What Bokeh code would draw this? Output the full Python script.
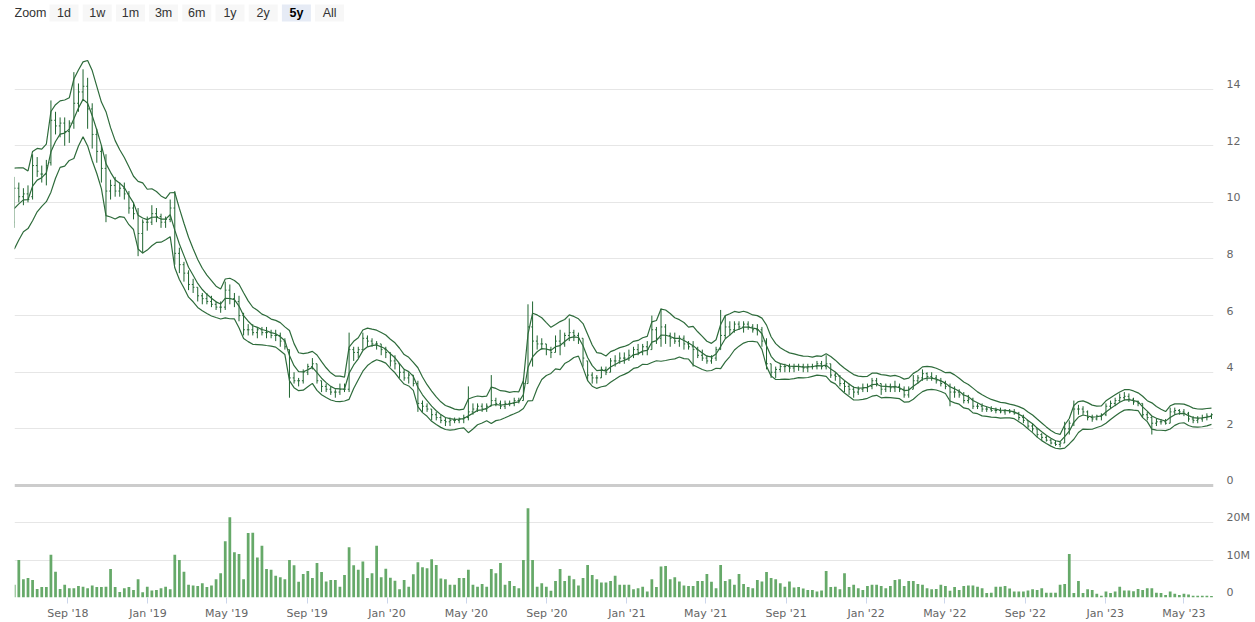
import numpy as np
import pandas as pd
from datetime import datetime, timedelta
from bokeh.plotting import figure
from bokeh.layouts import column
from bokeh.models import (Range1d, FixedTicker, Grid, LinearAxis, MonthsTicker,
                          DatetimeTickFormatter, Span)
from bokeh.core.properties import value
from bokeh.embed import file_html
from bokeh.resources import INLINE

# ---------------- data (weekly OHLC, volume in millions) ----------------
first_week = "2018-06-11"
n_weeks = 262
week_dates = pd.date_range(first_week, periods=n_weeks, freq="7D")

opens = [
    9.3, 10.5, 10.2, 10.3, 10.2, 11.3, 11.0, 11.0, 11.4, 12.9,
    12.7, 12.8, 12.5, 12.8, 13.5, 13.9, 14.1, 13.3, 12.4, 11.8,
    11.2, 10.4, 10.6, 10.4, 10.5, 10.3, 9.8, 9.6, 8.9, 9.3,
    9.3, 9.6, 9.5, 9.3, 9.4, 9.8, 8.2, 7.8, 7.5, 7.1,
    7.0, 6.7, 6.6, 6.5, 6.4, 6.3, 6.3, 6.9, 6.6, 6.5,
    6.0, 5.5, 5.5, 5.4, 5.5, 5.4, 5.4, 5.3, 5.3, 5.1,
    4.8, 3.8, 3.7, 3.7, 4.0, 4.2, 4.3, 3.7, 3.5, 3.4,
    3.3, 3.3, 3.4, 3.4, 4.8, 4.7, 4.8, 5.2, 5.1, 5.0,
    5.0, 4.8, 4.7, 4.4, 4.3, 4.0, 3.8, 3.9, 3.6, 2.9,
    2.8, 2.7, 2.5, 2.4, 2.3, 2.25, 2.3, 2.3, 2.35, 2.4,
    2.6, 2.7, 2.8, 2.7, 2.8, 3.0, 2.9, 2.8, 2.9, 2.9,
    3.0, 3.0, 3.6, 5.6, 5.1, 5.0, 5.0, 4.8, 4.7, 5.1,
    5.0, 5.3, 5.4, 5.3, 5.2, 4.4, 3.9, 3.8, 3.8, 4.1,
    4.0, 4.4, 4.4, 4.5, 4.5, 4.6, 4.8, 4.7, 4.9, 4.8,
    5.5, 5.2, 5.6, 5.3, 5.2, 5.1, 5.2, 5.0, 4.9, 4.8,
    4.6, 4.5, 4.4, 4.5, 4.8, 5.3, 5.6, 5.5, 5.7, 5.6,
    5.7, 5.6, 5.5, 5.5, 5.1, 4.3, 4.0, 4.1, 4.2, 4.2,
    4.15, 4.2, 4.2, 4.15, 4.2, 4.2, 4.3, 4.2, 4.3, 3.9,
    3.85, 3.6, 3.5, 3.4, 3.3, 3.4, 3.45, 3.5, 3.7, 3.6,
    3.4, 3.5, 3.45, 3.5, 3.4, 3.2, 3.4, 3.7, 3.8, 3.95,
    3.85, 3.8, 3.7, 3.6, 3.5, 3.3, 3.3, 3.2, 3.0, 3.05,
    2.8, 2.8, 2.7, 2.7, 2.65, 2.65, 2.6, 2.65, 2.6, 2.55,
    2.4, 2.3, 2.1, 2.0, 1.8, 1.7, 1.6, 1.5, 1.45, 1.5,
    2.0, 2.2, 2.7, 2.7, 2.6, 2.4, 2.35, 2.45, 2.5, 2.8,
    2.9, 3.0, 3.1, 3.15, 3.05, 2.95, 2.9, 2.5, 2.4, 2.2,
    2.25, 2.25, 2.2, 2.6, 2.65, 2.6, 2.55, 2.35, 2.3, 2.35,
    2.4, 2.45,
]
highs = [
    10.9, 10.7, 10.5, 10.6, 11.7, 11.6, 11.3, 11.5, 13.6, 13.2,
    13.0, 13.0, 12.9, 14.6, 14.2, 14.7, 14.4, 13.5, 12.6, 12.0,
    11.7, 10.8, 10.9, 10.7, 10.7, 10.4, 10.0, 9.8, 9.4, 9.5,
    9.9, 9.8, 9.6, 9.5, 10.1, 10.4, 8.4, 7.9, 7.6, 7.3,
    7.0, 6.8, 6.8, 6.7, 6.5, 6.5, 7.2, 7.1, 6.8, 6.7,
    6.1, 5.7, 5.7, 5.6, 5.6, 5.6, 5.5, 5.5, 5.4, 5.2,
    4.8, 4.0, 3.8, 4.1, 4.3, 4.5, 4.3, 3.7, 3.6, 3.5,
    3.4, 3.6, 3.6, 5.4, 4.9, 4.9, 5.4, 5.3, 5.2, 5.1,
    5.0, 4.9, 4.7, 4.6, 4.3, 4.1, 4.0, 3.9, 3.7, 3.0,
    2.9, 2.7, 2.6, 2.5, 2.4, 2.4, 2.4, 2.4, 2.5, 3.5,
    2.9, 2.9, 2.9, 2.9, 3.9, 3.1, 3.0, 3.0, 3.0, 3.1,
    3.1, 3.8, 6.4, 6.5, 5.3, 5.2, 5.0, 4.9, 5.3, 5.5,
    5.4, 5.9, 5.5, 5.4, 5.2, 4.4, 4.0, 3.9, 4.2, 4.2,
    4.5, 4.6, 4.7, 4.7, 4.8, 4.9, 5.0, 5.0, 5.1, 6.0,
    5.6, 6.25, 5.7, 5.4, 5.4, 5.3, 5.3, 5.1, 5.1, 4.9,
    4.8, 4.6, 4.6, 4.9, 6.2, 6.0, 5.8, 5.8, 5.8, 5.8,
    5.8, 5.7, 5.7, 5.6, 5.2, 4.3, 4.2, 4.3, 4.3, 4.3,
    4.3, 4.3, 4.3, 4.3, 4.3, 4.4, 4.4, 4.6, 4.3, 4.0,
    3.9, 3.7, 3.6, 3.5, 3.5, 3.6, 3.6, 3.8, 3.8, 3.6,
    3.6, 3.6, 3.7, 3.6, 3.5, 3.5, 3.9, 3.9, 4.1, 4.0,
    4.0, 3.9, 3.8, 3.7, 3.6, 3.5, 3.4, 3.3, 3.2, 3.1,
    2.9, 2.9, 2.8, 2.8, 2.75, 2.75, 2.7, 2.7, 2.7, 2.6,
    2.5, 2.3, 2.2, 2.0, 1.85, 1.75, 1.65, 1.6, 1.55, 2.25,
    2.3, 3.0, 2.85, 2.8, 2.65, 2.5, 2.5, 2.55, 2.9, 3.0,
    3.1, 3.25, 3.3, 3.25, 3.1, 3.0, 2.9, 2.6, 2.45, 2.35,
    2.35, 2.35, 2.75, 2.75, 2.7, 2.7, 2.6, 2.45, 2.45, 2.5,
    2.55, 2.55,
]
lows = [
    9.1, 10.0, 9.9, 10.0, 10.1, 10.9, 10.7, 10.6, 11.3, 12.4,
    12.3, 12.0, 12.1, 12.6, 13.2, 13.6, 12.6, 11.9, 11.4, 10.7,
    9.3, 10.1, 10.2, 10.2, 10.1, 9.6, 9.4, 8.1, 8.2, 9.0,
    9.2, 9.3, 9.1, 9.1, 9.3, 7.8, 7.5, 7.2, 6.9, 6.8,
    6.5, 6.4, 6.4, 6.3, 6.2, 6.1, 6.2, 6.4, 6.3, 5.8,
    5.3, 5.3, 5.3, 5.2, 5.3, 5.2, 5.2, 5.1, 4.9, 4.8,
    3.1, 3.6, 3.5, 3.6, 3.9, 4.1, 3.6, 3.3, 3.3, 3.2,
    3.1, 3.2, 3.3, 3.3, 4.4, 4.5, 4.8, 4.9, 4.9, 4.8,
    4.6, 4.5, 4.2, 4.1, 3.8, 3.7, 3.6, 3.5, 2.6, 2.6,
    2.6, 2.3, 2.3, 2.2, 2.1, 2.1, 2.2, 2.2, 2.2, 2.3,
    2.5, 2.6, 2.6, 2.6, 2.8, 2.8, 2.7, 2.7, 2.8, 2.8,
    2.9, 3.0, 3.6, 4.2, 4.8, 4.8, 4.6, 4.5, 4.7, 4.6,
    4.9, 5.1, 5.1, 5.0, 4.2, 3.7, 3.6, 3.6, 3.8, 3.9,
    4.0, 4.2, 4.3, 4.3, 4.4, 4.5, 4.6, 4.6, 4.6, 4.8,
    5.0, 4.9, 5.0, 4.9, 5.0, 4.9, 4.8, 4.8, 4.2, 4.5,
    4.4, 4.3, 4.3, 4.4, 4.8, 5.2, 5.3, 5.4, 5.5, 5.4,
    5.5, 5.4, 5.3, 4.9, 4.1, 3.8, 3.8, 4.0, 4.0, 4.0,
    4.0, 4.05, 4.0, 4.0, 4.1, 4.1, 4.1, 4.1, 3.8, 3.7,
    3.5, 3.3, 3.2, 3.1, 3.2, 3.3, 3.3, 3.4, 3.5, 3.2,
    3.3, 3.3, 3.3, 3.3, 3.1, 3.1, 3.4, 3.6, 3.7, 3.7,
    3.7, 3.6, 3.5, 3.4, 2.8, 3.1, 3.1, 2.9, 2.9, 2.7,
    2.7, 2.6, 2.6, 2.6, 2.55, 2.55, 2.5, 2.55, 2.5, 2.3,
    2.2, 2.0, 1.9, 1.7, 1.6, 1.55, 1.45, 1.4, 1.35, 1.5,
    1.8, 2.1, 2.5, 2.5, 2.3, 2.25, 2.3, 2.3, 2.45, 2.7,
    2.8, 2.95, 3.0, 2.95, 2.85, 2.8, 2.4, 2.3, 1.8, 2.1,
    2.15, 2.15, 2.2, 2.5, 2.5, 2.45, 2.25, 2.2, 2.2, 2.25,
    2.3, 2.35,
]
closes = [
    10.5, 10.2, 10.3, 10.1, 11.3, 11.1, 11.0, 11.3, 12.9, 12.7,
    12.8, 12.5, 12.8, 13.5, 13.9, 14.1, 13.3, 12.4, 11.8, 11.2,
    10.4, 10.6, 10.4, 10.5, 10.3, 9.8, 9.6, 8.9, 9.3, 9.3,
    9.6, 9.5, 9.3, 9.4, 9.8, 8.2, 7.8, 7.5, 7.1, 7.0,
    6.7, 6.6, 6.5, 6.4, 6.3, 6.3, 6.9, 6.6, 6.5, 6.0,
    5.5, 5.5, 5.4, 5.5, 5.4, 5.4, 5.3, 5.3, 5.1, 4.9,
    3.8, 3.7, 3.7, 4.0, 4.2, 4.3, 3.7, 3.5, 3.4, 3.3,
    3.3, 3.4, 3.4, 4.8, 4.7, 4.8, 5.2, 5.1, 5.0, 5.0,
    4.8, 4.7, 4.4, 4.3, 4.0, 3.8, 3.9, 3.6, 2.9, 2.8,
    2.7, 2.5, 2.4, 2.3, 2.25, 2.3, 2.3, 2.35, 2.4, 2.6,
    2.7, 2.8, 2.7, 2.8, 3.0, 2.9, 2.8, 2.9, 2.9, 3.0,
    3.0, 3.6, 5.6, 5.1, 5.0, 5.0, 4.8, 4.7, 5.1, 5.0,
    5.3, 5.4, 5.3, 5.2, 4.5, 3.9, 3.8, 3.8, 4.1, 4.0,
    4.4, 4.4, 4.5, 4.5, 4.6, 4.8, 4.7, 4.9, 4.8, 5.5,
    5.2, 5.6, 5.3, 5.2, 5.1, 5.2, 5.0, 4.9, 4.8, 4.6,
    4.5, 4.4, 4.5, 4.8, 5.3, 5.6, 5.5, 5.7, 5.6, 5.7,
    5.6, 5.5, 5.5, 5.1, 4.3, 4.0, 4.1, 4.2, 4.2, 4.15,
    4.2, 4.2, 4.15, 4.2, 4.2, 4.3, 4.2, 4.3, 3.9, 3.85,
    3.6, 3.5, 3.4, 3.3, 3.4, 3.45, 3.5, 3.7, 3.6, 3.4,
    3.5, 3.45, 3.5, 3.4, 3.2, 3.4, 3.7, 3.8, 3.95, 3.85,
    3.8, 3.7, 3.6, 3.5, 3.3, 3.3, 3.2, 3.0, 3.05, 2.8,
    2.8, 2.7, 2.7, 2.65, 2.65, 2.6, 2.65, 2.6, 2.55, 2.4,
    2.3, 2.1, 2.0, 1.8, 1.7, 1.6, 1.5, 1.45, 1.5, 2.0,
    2.2, 2.7, 2.7, 2.6, 2.4, 2.35, 2.45, 2.5, 2.8, 2.9,
    3.0, 3.1, 3.15, 3.05, 2.95, 2.9, 2.5, 2.4, 2.2, 2.25,
    2.25, 2.2, 2.6, 2.65, 2.6, 2.55, 2.35, 2.3, 2.35, 2.4,
    2.45, 2.5,
]
volumes_m = [
    3.4, 10.0, 4.9, 5.2, 4.7, 2.3, 2.8, 2.8, 11.4, 6.9,
    2.3, 3.4, 2.5, 2.5, 3.1, 2.9, 2.5, 3.2, 2.8, 2.8,
    2.9, 7.6, 2.8, 1.5, 2.5, 2.8, 2.0, 4.9, 1.4, 2.9,
    1.9, 2.0, 2.5, 2.9, 2.2, 11.4, 10.0, 6.9, 3.4, 3.2,
    3.1, 3.8, 2.8, 3.2, 4.9, 6.5, 15.0, 21.4, 12.1, 11.6,
    4.9, 17.2, 17.3, 10.7, 13.8, 7.6, 7.4, 5.8, 5.4, 4.9,
    10.0, 8.6, 4.2, 6.3, 7.1, 5.2, 9.2, 6.8, 4.3, 4.7,
    4.7, 2.9, 6.0, 13.4, 8.6, 7.4, 9.6, 5.2, 6.5, 13.8,
    5.4, 7.7, 5.3, 4.5, 2.2, 4.7, 2.9, 6.2, 9.4, 8.1,
    7.8, 10.2, 8.7, 5.1, 4.9, 3.4, 3.4, 5.2, 5.2, 7.4,
    3.4, 2.9, 3.6, 2.9, 7.6, 6.5, 9.2, 3.4, 4.4, 3.1,
    2.5, 10.0, 23.8, 10.0, 2.9, 3.8, 2.9, 1.8, 4.4, 7.6,
    4.4, 5.8, 4.9, 3.2, 5.2, 8.7, 6.0, 4.9, 4.0, 4.0,
    4.4, 5.8, 3.4, 3.4, 3.4, 2.2, 2.5, 2.9, 1.6, 4.9,
    2.8, 8.3, 8.4, 4.9, 5.4, 4.3, 3.2, 3.1, 3.1, 4.4,
    4.4, 6.3, 4.2, 2.5, 8.7, 4.4, 4.9, 3.4, 6.3, 3.6,
    2.8, 2.5, 4.7, 4.3, 6.8, 5.2, 4.9, 3.8, 2.9, 4.3,
    2.7, 2.8, 2.4, 2.0, 2.0, 1.6, 1.9, 7.1, 2.8, 2.9,
    2.2, 6.5, 2.8, 3.4, 2.5, 2.0, 3.1, 3.4, 3.4, 3.1,
    2.5, 3.1, 4.7, 4.9, 3.1, 4.4, 4.4, 3.6, 3.4, 2.5,
    2.2, 2.3, 3.4, 3.1, 1.8, 2.8, 2.0, 3.1, 3.2, 3.2,
    2.9, 2.5, 1.2, 1.3, 2.9, 2.9, 3.1, 2.4, 1.6, 1.6,
    1.6, 1.9, 2.2, 2.0, 2.5, 1.3, 1.3, 1.3, 3.4, 3.6,
    11.6, 1.2, 4.4, 1.2, 2.2, 2.0, 1.0, 0.5, 1.6, 1.2,
    1.6, 2.9, 1.9, 1.9, 1.7, 2.3, 2.0, 2.5, 2.5, 1.3,
    1.2, 0.7, 1.6, 1.0, 0.7, 1.0, 0.8, 0.5, 0.5, 0.5,
    0.5, 0.4,
]
price_ticks = [0, 2, 4, 6, 8, 10, 12, 14]
price_grid = [2, 4, 6, 8, 10, 12, 14, 16]
volume_ticks = [0, 10, 20]
volume_labels = {0: "0", 10: "10M", 20: "20M"}
zoom_buttons = ["1d", "1w", "1m", "3m", "6m", "1y", "2y", "5y", "All"]
selected_button = "5y"

# ---------------- indicator (channel computed from the OHLC series) ----------------
o = np.array(opens); h = np.array(highs); l = np.array(lows); c = np.array(closes)
alpha_mid, alpha_atr, mult = 0.4, 0.25, 1.15
tr = np.empty(n_weeks)
prev_c = o[0]
for i in range(n_weeks):
    tr[i] = max(h[i], prev_c) - min(l[i], prev_c)
    prev_c = c[i]
mid = np.zeros(n_weeks); atr = np.zeros(n_weeks)
m_prev = o[0]; a_prev = tr[:5].mean()
for i in range(n_weeks):
    m_prev = m_prev + alpha_mid * (c[i] - m_prev)
    a_prev = a_prev + alpha_atr * (tr[i] - a_prev)
    mid[i] = m_prev; atr[i] = a_prev
upper = mid + mult * atr
lower = mid - mult * atr

# ---------------- layout constants ----------------
DAY = 86400000.0
xs = (week_dates.astype("int64") // 10**6).to_numpy().astype(float)
px_per_day = 0.6553
frame_w = 1199
x_start = datetime(2018, 6, 11, 9, 36)
x_end = x_start + timedelta(days=frame_w / px_per_day)
xr = Range1d(start=x_start, end=x_end)

FONT = "DejaVu Sans"
HDR_FONT = "Liberation Sans"
OHLC_COLOR = "#1f6530"
BAND_COLOR = "#2e6b3b"
VOL_COLOR = "#66a969"
GRID_COLOR = "#e6e6e6"
LABEL_COLOR = "#666666"
TOTAL_W = 1255
LEFT = 14
RIGHT = TOTAL_W - LEFT - frame_w

# ---------------- header with range selector ----------------
hdr_h = 32
hdr = figure(frame_width=frame_w, frame_height=hdr_h, x_range=Range1d(LEFT, LEFT + frame_w),
             y_range=Range1d(hdr_h, 0), toolbar_location=None, output_backend="svg",
             min_border_left=LEFT, min_border_right=RIGHT, min_border_top=0,
             min_border_bottom=0, x_axis_location=None, y_axis_location=None,
             outline_line_color=None)
hdr.xgrid.grid_line_color = None
hdr.ygrid.grid_line_color = None
centers = [63.5 + 33.2 * k for k in range(len(zoom_buttons))]
fills = ["#e6ebf5" if b == selected_button else "#f7f7f7" for b in zoom_buttons]
hdr.rect(x=centers, y=12.5, width=29, height=17, fill_color=fills, line_color=None)
hdr.text(x=[14], y=[12.5], text=["Zoom"], text_font=value(HDR_FONT), text_font_size="12.5px",
         text_color="#333333", text_baseline="middle", text_align="left")
normal = [b for b in zoom_buttons if b != selected_button]
ncent = [centers[k] for k, b in enumerate(zoom_buttons) if b != selected_button]
hdr.text(x=ncent, y=[12.5] * len(ncent), text=normal, text_font=value(HDR_FONT),
         text_font_size="12.5px", text_color="#333333", text_baseline="middle",
         text_align="center")
scent = [centers[k] for k, b in enumerate(zoom_buttons) if b == selected_button]
hdr.text(x=scent, y=[12.5], text=[selected_button], text_font=value(HDR_FONT),
         text_font_size="12.5px", text_color="#000000", text_font_style="bold",
         text_baseline="middle", text_align="center")

# ---------------- price pane ----------------
price_h = 456
y0 = -0.106
p = figure(x_axis_type="datetime", x_range=xr, y_range=Range1d(y0, 16),
           frame_width=frame_w, frame_height=price_h, min_border_left=LEFT,
           min_border_right=RIGHT, min_border_top=0, min_border_bottom=0,
           x_axis_location=None, y_axis_location=None, toolbar_location=None,
           output_backend="svg", outline_line_color=None)
p.xgrid.grid_line_color = None
p.ygrid.grid_line_color = None
p.add_layout(Grid(dimension=1, ticker=FixedTicker(ticks=price_grid),
                  grid_line_color=GRID_COLOR, grid_line_width=1))
shift = 5.0 * (16 - y0) / price_h
p.extra_y_ranges = {"plab": Range1d(y0 - shift, 16 - shift)}
pax = LinearAxis(y_range_name="plab", ticker=FixedTicker(ticks=price_ticks),
                 axis_line_color=None, major_tick_line_color=None,
                 major_tick_out=0, major_tick_in=0,
                 minor_tick_line_color=None, major_label_standoff=13,
                 major_label_text_font=FONT, major_label_text_font_size="11px",
                 major_label_text_color=LABEL_COLOR)
p.add_layout(pax, "right")
p.add_layout(Span(location=0, dimension="width", line_color="#cccccc", line_width=3))

tick = 2.0 * DAY
p.segment(x0=xs, y0=lows, x1=xs, y1=highs, line_color=OHLC_COLOR, line_width=1)
p.segment(x0=xs - tick, y0=opens, x1=xs, y1=opens, line_color=OHLC_COLOR, line_width=1)
p.segment(x0=xs, y0=closes, x1=xs + tick, y1=closes, line_color=OHLC_COLOR, line_width=1)
for band in (upper, mid, lower):
    p.line(xs, band, line_color=BAND_COLOR, line_width=1.2)

# ---------------- volume pane ----------------
vol_h = 109
vmax = vol_h / 3.75
v = figure(x_axis_type="datetime", x_range=xr, y_range=Range1d(0, vmax),
           frame_width=frame_w, frame_height=vol_h, min_border_left=LEFT,
           min_border_right=RIGHT, min_border_top=0, min_border_bottom=24,
           x_axis_location="below", y_axis_location=None, toolbar_location=None,
           output_backend="svg", outline_line_color=None)
v.xgrid.grid_line_color = None
v.ygrid.grid_line_color = None
v.add_layout(Grid(dimension=1, ticker=FixedTicker(ticks=[10, 20]),
                  grid_line_color=GRID_COLOR, grid_line_width=1))
vshift = 5.0 * vmax / vol_h
v.extra_y_ranges = {"vlab": Range1d(-vshift, vmax - vshift)}
vax = LinearAxis(y_range_name="vlab", ticker=FixedTicker(ticks=volume_ticks),
                 major_label_overrides=volume_labels,
                 axis_line_color=None, major_tick_line_color=None,
                 major_tick_out=0, major_tick_in=0,
                 minor_tick_line_color=None, major_label_standoff=13,
                 major_label_text_font=FONT, major_label_text_font_size="11px",
                 major_label_text_color=LABEL_COLOR)
v.add_layout(vax, "right")
xa = v.xaxis[0]
xa.ticker = MonthsTicker(months=[0, 4, 8])
xa.formatter = DatetimeTickFormatter(months="%b '%y", days="%b '%y", years="%b '%y")
xa.axis_line_color = None
xa.major_tick_line_color = "#ccd6eb"
xa.major_tick_in = 0
xa.major_tick_out = 6
xa.minor_tick_line_color = None
xa.major_label_standoff = 3
xa.major_label_text_font = FONT
xa.major_label_text_font_size = "11px"
xa.major_label_text_color = LABEL_COLOR

v.vbar(x=xs, top=volumes_m, width=4.2 * DAY, fill_color=VOL_COLOR, line_color=None)

layout = column(hdr, p, v, spacing=0)
open("out.html", "w").write(file_html(layout, INLINE))
